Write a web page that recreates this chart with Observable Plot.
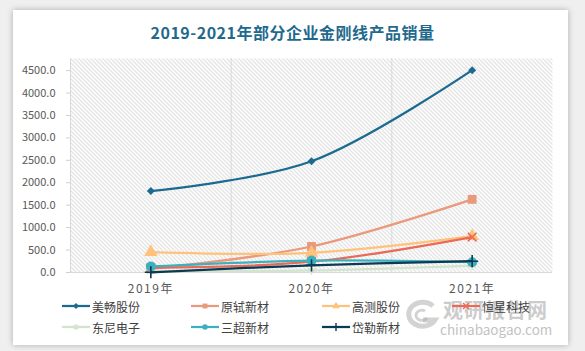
<!DOCTYPE html>
<html><head><meta charset="utf-8">
<script src="https://cdn.jsdelivr.net/npm/d3@7"></script>
<script src="https://cdn.jsdelivr.net/npm/@observablehq/plot@0.6"></script>
<style>
body{margin:0;background:#EFEFEF;font-family:"Noto Sans CJK SC","Noto Sans",sans-serif;}
#wrap{position:relative;width:585px;height:351px;overflow:hidden;background:#EFEFEF;}
#card{position:absolute;left:13px;top:10px;width:555px;height:335px;background:#fff;box-shadow:0 0 6px rgba(0,0,0,0.28);}
#title{position:absolute;left:0;width:585px;top:20px;text-align:center;font-size:16px;font-weight:bold;color:#1F6A8C;letter-spacing:0.5px;}
#chart{position:absolute;left:0;top:0;}
.leg{position:absolute;display:flex;align-items:center;font-size:12px;color:#404040;}
.wm1{position:absolute;left:443px;top:300px;font-size:20px;line-height:1;font-weight:bold;color:#9A9A9A;opacity:0.5;letter-spacing:1px;}
.wm2{position:absolute;left:440px;top:323px;font-size:13.5px;line-height:1;color:#9A9A9A;opacity:0.6;}
.wmlogo{position:absolute;left:403px;top:298px;}
</style></head>
<body>
<div id="wrap">
<div id="card"></div>
<div id="title">2019-2021年部分企业金刚线产品销量</div>
<div id="chart"></div>
<svg class="wmlogo" width="38" height="34"><path d="M30,8 A14,12 0 1,0 32,22 L20,22" fill="none" stroke="#AFAFAF" stroke-width="5" opacity="0.55"/><path d="M22,13 A6,5 0 1,0 24,20" fill="none" stroke="#AFAFAF" stroke-width="3" opacity="0.55"/></svg>
<div class="wm1">观研报告网</div>
<div class="wm2">chinabaogao.com</div>
<div id="legend"></div>
</div>
<script>
const years = ["2019年", "2020年", "2021年"];
const seriesNames = ["美畅股份", "原轼新材", "高测股份", "恒星科技", "东尼电子", "三超新材", "岱勒新材"];
const meichang = [1815, 2480, 4510];
const yuanshi = [80, 580, 1630];
const gaoce = [455, 440, 810];
const hengxing = [105, 240, 790];
const dongni = [25, 45, 155];
const sanchao = [135, 265, 230];
const daile = [5, 160, 252];
const yTicks = [0, 500, 1000, 1500, 2000, 2500, 3000, 3500, 4000, 4500];

const values = [meichang, yuanshi, gaoce, hengxing, dongni, sanchao, daile];
const colors = ["#1B6A8F", "#E99A7C", "#FFC27C", "#EA6A57", "#D2E3CE", "#3DB0BE", "#0C3A52"];
const symbols = ["diamond2", "square", "triangle", "times", "asterisk", "circle", "plus"];
const sizes = [3.6, 5, 5, 4, 4, 5, 4];
const strokeSym = new Set(["times", "asterisk", "plus"]);

const rows = seriesNames.flatMap((s, si) => values[si].map((v, i) => ({series: s, i, v})));

const marks = [
  Plot.frame({fill: "url(#hatch)", stroke: "none"}),
  Plot.ruleX([-0.5, 0.5, 1.5], {stroke: "#D9D9D9", strokeWidth: 1}),
  Plot.ruleY([0], {stroke: "#D9D9D9", strokeWidth: 1}),
  Plot.axisY({ticks: yTicks, tickFormat: d3.format(".1f"), tickSize: 4, tickPadding: 11, fontSize: 11, label: null, stroke: "#D0D0D0"}),
  Plot.axisX({ticks: [0, 1, 2], tickFormat: i => years[i], tickSize: 0, tickPadding: 12, fontSize: 12, label: null})
];
seriesNames.forEach((s, si) => {
  const d = rows.filter(r => r.series === s);
  marks.push(Plot.line(d, {x: "i", y: "v", stroke: colors[si], strokeWidth: 2.25, curve: "catmull-rom"}));
  const sym = symbols[si];
  if (strokeSym.has(sym)) {
    marks.push(Plot.dot(d, {x: "i", y: "v", symbol: sym, r: sizes[si], stroke: colors[si], strokeWidth: 1.6, fill: "none"}));
  } else {
    marks.push(Plot.dot(d, {x: "i", y: "v", symbol: sym, r: sizes[si], fill: colors[si], stroke: "none"}));
  }
});

const svg = Plot.plot({
  width: 585,
  height: 302,
  marginLeft: 70,
  marginRight: 33,
  marginTop: 58,
  marginBottom: 30,
  style: {background: "transparent", color: "#595959", fontFamily: "\"Noto Sans CJK SC\", sans-serif", overflow: "visible"},
  x: {type: "linear", domain: [-0.5, 2.5], axis: null},
  y: {domain: [0, 4770], axis: null},
  marks
});
const defs = d3.select(svg).insert("defs", ":first-child");
const pat = defs.append("pattern").attr("id", "hatch").attr("patternUnits", "userSpaceOnUse").attr("width", 4).attr("height", 4);
pat.append("rect").attr("width", 4).attr("height", 4).attr("fill", "#fff");
pat.append("path").attr("d", "M0,0L4,4M-1,3L1,5M3,-1L5,1").attr("stroke", "#C4C4C4").attr("stroke-width", 0.9);
d3.select(svg).selectAll("text").filter(function(){return /年/.test(this.textContent);}).style("letter-spacing", "1.5px");
document.getElementById("chart").appendChild(svg);

// legend
const legend = d3.select("#legend");
const legPos = [[62, 306], [191, 306], [322, 306], [452, 306], [62, 327], [191, 327], [322, 327]];
seriesNames.forEach((s, si) => {
  const item = legend.append("div").attr("class", "leg").style("left", legPos[si][0] + "px").style("top", (legPos[si][1] - 9) + "px");
  const sv = item.append("svg").attr("width", 30).attr("height", 18);
  sv.append("line").attr("x1", 0).attr("x2", 28).attr("y1", 9).attr("y2", 9).attr("stroke", colors[si]).attr("stroke-width", 2.25);
  const symType = {diamond2: d3.symbolDiamond2, square: d3.symbolSquare, triangle: d3.symbolTriangle, times: d3.symbolTimes, asterisk: d3.symbolAsterisk, circle: d3.symbolCircle, plus: d3.symbolPlus}[symbols[si]];
  const p = sv.append("path").attr("transform", "translate(14,9)").attr("d", d3.symbol(symType, 24)());
  if (strokeSym.has(symbols[si])) p.attr("fill", "none").attr("stroke", colors[si]).attr("stroke-width", 1.4);
  else p.attr("fill", colors[si]);
  item.append("span").text(s);
});
</script>
</body></html>
